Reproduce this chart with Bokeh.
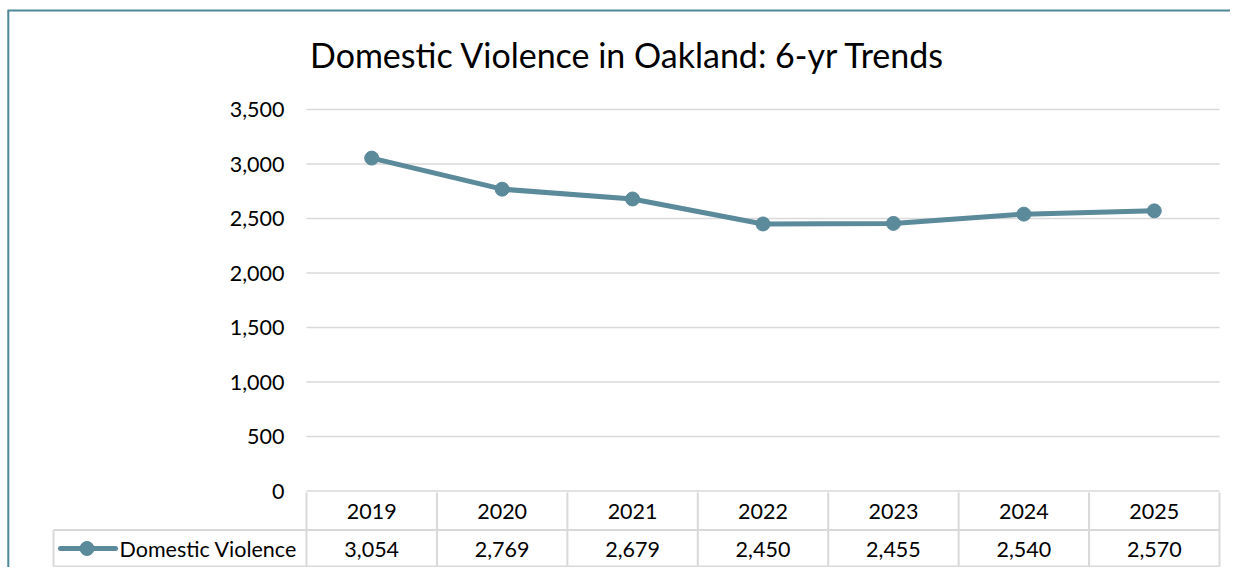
from bokeh.plotting import figure
from bokeh.models import Range1d, ColumnDataSource
from bokeh.core.properties import value
from bokeh.embed import file_html
from bokeh.resources import INLINE

# ---- data ----
title_text = "Domestic Violence in Oakland: 6-yr Trends"
series_name = "Domestic Violence"
years = ["2019", "2020", "2021", "2022", "2023", "2024", "2025"]
counts = [3054, 2769, 2679, 2450, 2455, 2540, 2570]
y_ticks = [0, 500, 1000, 1500, 2000, 2500, 3000, 3500]

# ---- layout (image pixels) ----
W_FIG, H_FIG = 1230, 567
OFF = 0
PLOT_L, PLOT_R = 306, 1219   # plot area in image px
Y0_PX, YTOP_PX = 490.5, 109  # pixel of 0 and 3500
n = len(years)
colw = (PLOT_R - PLOT_L) / n
k = (Y0_PX - YTOP_PX) / y_ticks[-1]

def px2x(ix):
    return (ix - PLOT_L) / colw - 0.5

def px2y(iy):
    return (Y0_PX - iy) / k

FONT = "Lato"
FS = "21.5px"
LINE_COL = "#5B8A9A"
GRID_COL = "#D9D9D9"
FRAME_COL = "#4E8798"

p = figure(width=W_FIG, height=H_FIG, output_backend="svg", toolbar_location=None,
           x_range=Range1d(px2x(OFF), px2x(OFF + W_FIG)),
           y_range=Range1d(px2y(OFF + H_FIG), px2y(OFF)),
           x_axis_location=None, y_axis_location=None,
           min_border=0, outline_line_color=None)
p.grid.visible = False
p.background_fill_color = "white"
p.border_fill_color = "white"

# outer frame (left and top edges)
p.segment(x0=[px2x(7.8), px2x(7)], y0=[px2y(10), px2y(10)],
          x1=[px2x(7.8), px2x(OFF + W_FIG + 5)], y1=[px2y(OFF + H_FIG + 5), px2y(10)],
          line_color=FRAME_COL, line_width=2)

# horizontal gridlines
p.segment(x0=[-0.5] * len(y_ticks), y0=y_ticks, x1=[n - 0.5] * len(y_ticks), y1=y_ticks,
          line_color=GRID_COL, line_width=1.6)

# y tick labels
p.text(x=[px2x(284)] * len(y_ticks), y=y_ticks, text=[f"{t:,}" for t in y_ticks],
       text_align="right", text_baseline="middle", text_font=value(FONT),
       text_font_size=FS, text_color="#000000")

# title
p.text(x=[px2x(627.5)], y=[px2y(54)], text=[title_text], text_align="center",
       text_baseline="middle", text_font=value(FONT), text_font_size="34px",
       text_color="#000000")

# data table lines
row1_top, row_mid, row_bot = 492, 529.5, 566
xs_cols = list(range(n + 1))
p.segment(x0=[c - 0.5 for c in xs_cols], y0=[px2y(row1_top)] * (n + 1),
          x1=[c - 0.5 for c in xs_cols], y1=[px2y(row_bot)] * (n + 1),
          line_color=GRID_COL, line_width=2)
p.segment(x0=[px2x(53), px2x(53), px2x(53)], y0=[px2y(row_mid), px2y(row_mid), px2y(row_bot)],
          x1=[px2x(53), n - 0.5, n - 0.5], y1=[px2y(row_bot), px2y(row_mid), px2y(row_bot)],
          line_color=GRID_COL, line_width=2)

xs = list(range(n))
# years row
p.text(x=xs, y=[px2y(511)] * n, text=years, text_align="center", text_baseline="middle",
       text_font=value(FONT), text_font_size=FS, text_color="#000000")
# values row
p.text(x=xs, y=[px2y(548.5)] * n, text=[f"{v:,}" for v in counts], text_align="center",
       text_baseline="middle", text_font=value(FONT), text_font_size=FS, text_color="#000000")

# legend key in table
p.line(x=[px2x(60), px2x(115)], y=[px2y(548)] * 2, line_color=LINE_COL, line_width=5,
       line_cap="round")
p.scatter(x=[px2x(86.5)], y=[px2y(548)], size=14, fill_color=LINE_COL, line_color=LINE_COL)
p.text(x=[px2x(119)], y=[px2y(548.5)], text=[series_name], text_align="left",
       text_baseline="middle", text_font=value(FONT), text_font_size=FS, text_color="#000000")

# data series
src = ColumnDataSource(dict(x=xs, y=counts))
p.line("x", "y", source=src, line_color=LINE_COL, line_width=5, line_join="round")
p.scatter("x", "y", source=src, size=14, fill_color=LINE_COL, line_color=LINE_COL)

open("out.html", "w").write(file_html(p, INLINE))
